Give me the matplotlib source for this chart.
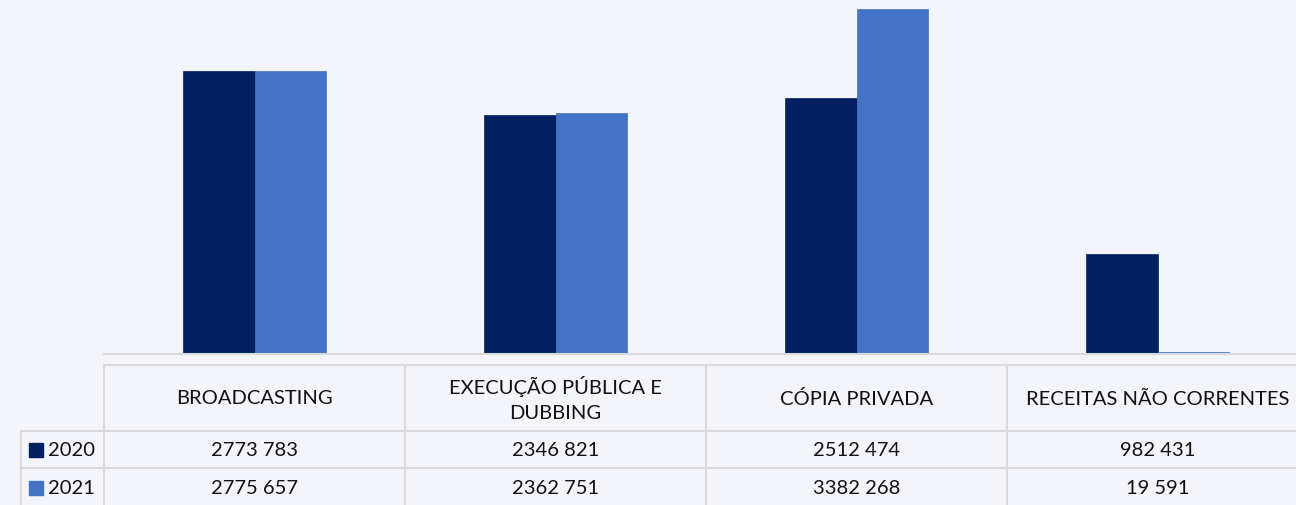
import matplotlib
matplotlib.use("Agg")
import matplotlib.pyplot as plt
import numpy as np

categories = ["BROADCASTING", "EXECUÇÃO PÚBLICA E\nDUBBING", "CÓPIA PRIVADA", "RECEITAS NÃO CORRENTES"]
series_names = ["2020", "2021"]
values_2020 = [2773783, 2346821, 2512474, 982431]
values_2021 = [2775657, 2362751, 3382268, 19591]
labels_2020 = ["2773 783", "2346 821", "2512 474", "982 431"]
labels_2021 = ["2775 657", "2362 751", "3382 268", "19 591"]

colors = ["#002060", "#4472C4"]
bg = "#F4F5FA"
grid_c = "#D9D9D9"

W, H = 1296, 506
fig = plt.figure(figsize=(W / 100, H / 100), dpi=100, facecolor=bg)
plt.rcParams['font.family'] = ['Lato', 'DejaVu Sans']

x0 = 104
ax = fig.add_axes([x0 / W, (H - 355) / H, (W - x0) / W, 355 / H])
ax.set_facecolor(bg)
cat_w = 301.0
xmax = -0.5 + (W - x0) / cat_w
x = np.arange(len(categories))
bw = 0.239
ax.bar(x - bw / 2, values_2020, bw, color=colors[0], edgecolor=colors[0], linewidth=0.5)
ax.bar(x + bw / 2, values_2021, bw, color=colors[1], edgecolor=colors[1], linewidth=0.5)
ax.set_xlim(-0.5, xmax)
ax.set_ylim(0, 3484000)
for s in ["top", "right", "left"]:
    ax.spines[s].set_visible(False)
ax.spines["bottom"].set_color(grid_c)
ax.spines["bottom"].set_linewidth(1.5)
ax.set_xticks([])
ax.set_yticks([])

# data table
tax = fig.add_axes([0, 0, 1, 1])
tax.set_xlim(0, W)
tax.set_ylim(H, 0)
tax.axis("off")
lw = 1.5
top, r1, r2 = 366, 432, 469
left_lbl = 21

def colx(i):
    return x0 + (i + 0.5) * cat_w  # center of category column

tax.plot([x0, W], [top, top], color=grid_c, lw=lw)
tax.plot([left_lbl, W], [r1, r1], color=grid_c, lw=lw)
tax.plot([left_lbl, W], [r2, r2], color=grid_c, lw=lw)
tax.plot([left_lbl, left_lbl], [r1, H], color=grid_c, lw=lw)
tax.plot([x0, x0], [top, H], color=grid_c, lw=lw)
for i in range(1, len(categories) + 1):
    xb = x0 + i * cat_w
    if xb < W:
        tax.plot([xb, xb], [top, H], color=grid_c, lw=lw)

fs = 14.5
tc = "#111111"
for i, c in enumerate(categories):
    tax.text(colx(i), (top + r1) / 2, c, ha="center", va="center", fontsize=fs,
             color=tc, linespacing=1.6)
    tax.text(colx(i), (r1 + r2) / 2, labels_2020[i], ha="center", va="center", fontsize=fs, color=tc)
    tax.text(colx(i), (r2 + H) / 2 + 1, labels_2021[i], ha="center", va="center", fontsize=fs, color=tc)

for k, (name, yc) in enumerate(zip(series_names, [(r1 + r2) / 2, (r2 + H) / 2 + 1])):
    tax.add_patch(plt.Rectangle((29, yc - 7), 14, 14, color=colors[k]))
    tax.text(48, yc, name, ha="left", va="center", fontsize=fs, color=tc)

fig.savefig("out.png", dpi=100, facecolor=bg)
